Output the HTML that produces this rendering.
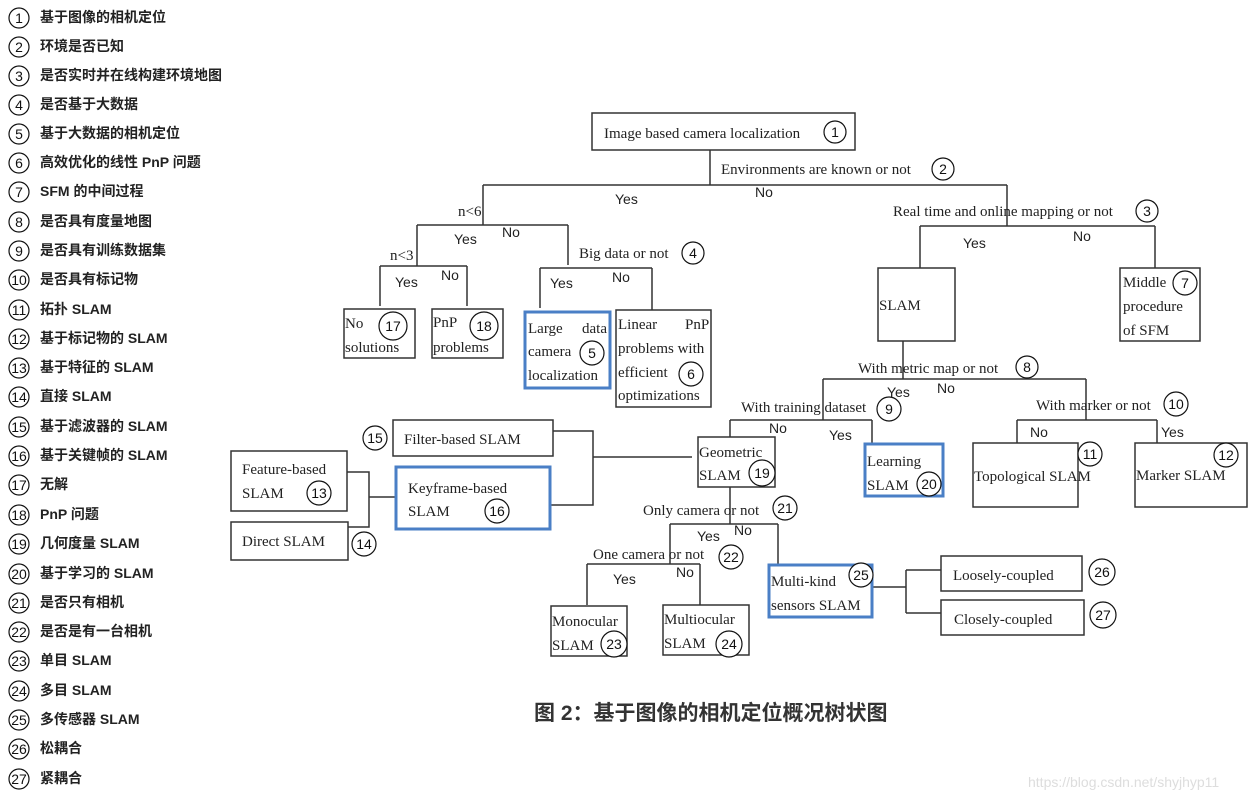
<!DOCTYPE html>
<html><head><meta charset="utf-8"><style>
html,body{margin:0;padding:0;background:#fff;}
svg{display:block;}
.lg{font-family:"Liberation Sans","Noto Sans CJK SC",sans-serif;font-size:14px;font-weight:bold;fill:#222;}
.n{font-family:"Liberation Sans",sans-serif;font-size:14px;fill:#111;text-anchor:middle;}
.t{font-family:"Liberation Serif",serif;font-size:15px;fill:#222;}
.yn{font-family:"Liberation Sans",sans-serif;font-size:14px;fill:#222;}
.b{fill:none;stroke:#333;stroke-width:1.5;}
.bb{fill:none;stroke:#4a7fc6;stroke-width:3;}
.l{fill:none;stroke:#333;stroke-width:1.5;}
.c{fill:#fff;stroke:#111;stroke-width:1.2;}
</style></head><body>
<svg width="1251" height="798" viewBox="0 0 1251 798" xmlns="http://www.w3.org/2000/svg">
<!-- legend -->
<g>
<circle class="c" cx="19" cy="18" r="10"/><text class="n" x="19" y="23">1</text><text class="lg" x="40" y="22">基于图像的相机定位</text>
<circle class="c" cx="19" cy="47" r="10"/><text class="n" x="19" y="52">2</text><text class="lg" x="40" y="51">环境是否已知</text>
<circle class="c" cx="19" cy="76" r="10"/><text class="n" x="19" y="81">3</text><text class="lg" x="40" y="80">是否实时并在线构建环境地图</text>
<circle class="c" cx="19" cy="105" r="10"/><text class="n" x="19" y="110">4</text><text class="lg" x="40" y="109">是否基于大数据</text>
<circle class="c" cx="19" cy="134" r="10"/><text class="n" x="19" y="139">5</text><text class="lg" x="40" y="138">基于大数据的相机定位</text>
<circle class="c" cx="19" cy="163" r="10"/><text class="n" x="19" y="168">6</text><text class="lg" x="40" y="167">高效优化的线性 PnP 问题</text>
<circle class="c" cx="19" cy="192" r="10"/><text class="n" x="19" y="197">7</text><text class="lg" x="40" y="196">SFM 的中间过程</text>
<circle class="c" cx="19" cy="222" r="10"/><text class="n" x="19" y="227">8</text><text class="lg" x="40" y="226">是否具有度量地图</text>
<circle class="c" cx="19" cy="251" r="10"/><text class="n" x="19" y="256">9</text><text class="lg" x="40" y="255">是否具有训练数据集</text>
<circle class="c" cx="19" cy="280" r="10"/><text class="n" x="19" y="285">10</text><text class="lg" x="40" y="284">是否具有标记物</text>
<circle class="c" cx="19" cy="310" r="10"/><text class="n" x="19" y="315">11</text><text class="lg" x="40" y="314">拓扑 SLAM</text>
<circle class="c" cx="19" cy="339" r="10"/><text class="n" x="19" y="344">12</text><text class="lg" x="40" y="343">基于标记物的 SLAM</text>
<circle class="c" cx="19" cy="368" r="10"/><text class="n" x="19" y="373">13</text><text class="lg" x="40" y="372">基于特征的 SLAM</text>
<circle class="c" cx="19" cy="397" r="10"/><text class="n" x="19" y="402">14</text><text class="lg" x="40" y="401">直接 SLAM</text>
<circle class="c" cx="19" cy="427" r="10"/><text class="n" x="19" y="432">15</text><text class="lg" x="40" y="431">基于滤波器的 SLAM</text>
<circle class="c" cx="19" cy="456" r="10"/><text class="n" x="19" y="461">16</text><text class="lg" x="40" y="460">基于关键帧的 SLAM</text>
<circle class="c" cx="19" cy="485" r="10"/><text class="n" x="19" y="490">17</text><text class="lg" x="40" y="489">无解</text>
<circle class="c" cx="19" cy="515" r="10"/><text class="n" x="19" y="520">18</text><text class="lg" x="40" y="519">PnP 问题</text>
<circle class="c" cx="19" cy="544" r="10"/><text class="n" x="19" y="549">19</text><text class="lg" x="40" y="548">几何度量 SLAM</text>
<circle class="c" cx="19" cy="574" r="10"/><text class="n" x="19" y="579">20</text><text class="lg" x="40" y="578">基于学习的 SLAM</text>
<circle class="c" cx="19" cy="603" r="10"/><text class="n" x="19" y="608">21</text><text class="lg" x="40" y="607">是否只有相机</text>
<circle class="c" cx="19" cy="632" r="10"/><text class="n" x="19" y="637">22</text><text class="lg" x="40" y="636">是否是有一台相机</text>
<circle class="c" cx="19" cy="661" r="10"/><text class="n" x="19" y="666">23</text><text class="lg" x="40" y="665">单目 SLAM</text>
<circle class="c" cx="19" cy="691" r="10"/><text class="n" x="19" y="696">24</text><text class="lg" x="40" y="695">多目 SLAM</text>
<circle class="c" cx="19" cy="720" r="10"/><text class="n" x="19" y="725">25</text><text class="lg" x="40" y="724">多传感器 SLAM</text>
<circle class="c" cx="19" cy="749" r="10"/><text class="n" x="19" y="754">26</text><text class="lg" x="40" y="753">松耦合</text>
<circle class="c" cx="19" cy="779" r="10"/><text class="n" x="19" y="784">27</text><text class="lg" x="40" y="783">紧耦合</text>
</g>

<!-- lines -->
<g class="l">
<path d="M710 150V185M483 185H1007M483 185V225M417 225H568M568 225V265M417 225V266M380 266H467M380 266V306M467 266V306"/>
<path d="M540 268H652M540 268V308M652 268V310"/>
<path d="M1007 185V226M920 226H1155M920 226V268M1155 226V268"/>
<path d="M903 341V379M823 379H1086M823 379V420M1086 379V420M730 420H872M730 420V437M872 420V444M1017 420H1157M1017 420V443M1157 420V443"/>
<path d="M553 431H593V505H550M593 457H692"/>
<path d="M347 472H369V527H348M369 497H396"/>
<path d="M730 487V524M670 524H778M670 524V564M778 524V565M587 564H700M587 564V605M700 564V605"/>
<path d="M872 587H906M906 570V613M906 570H941M906 613H941"/>
</g>

<!-- boxes -->
<rect class="b" x="592" y="113" width="263" height="37"/>
<rect class="b" x="344" y="309" width="71" height="49"/>
<rect class="b" x="432" y="309" width="71" height="49"/>
<rect class="bb" x="525" y="312" width="85" height="76"/>
<rect class="b" x="616" y="310" width="95" height="97"/>
<rect class="b" x="878" y="268" width="77" height="73"/>
<rect class="b" x="1120" y="268" width="80" height="73"/>
<rect class="b" x="698" y="437" width="77" height="50"/>
<rect class="bb" x="865" y="444" width="78" height="52"/>
<rect class="b" x="973" y="443" width="105" height="64"/>
<rect class="b" x="1135" y="443" width="112" height="64"/>
<rect class="b" x="393" y="420" width="160" height="36"/>
<rect class="bb" x="396" y="467" width="154" height="62"/>
<rect class="b" x="231" y="451" width="116" height="60"/>
<rect class="b" x="231" y="522" width="117" height="38"/>
<rect class="b" x="551" y="606" width="76" height="50"/>
<rect class="b" x="663" y="605" width="86" height="50"/>
<rect class="bb" x="769" y="565" width="103" height="52"/>
<rect class="b" x="941" y="556" width="141" height="35"/>
<rect class="b" x="941" y="600" width="143" height="35"/>

<!-- texts -->
<g class="t">
<text x="604" y="138">Image based camera localization</text>
<text x="721" y="174">Environments are known or not</text>
<text x="458" y="216">n&lt;6</text>
<text x="390" y="260">n&lt;3</text>
<text x="579" y="258">Big data or not</text>
<text x="893" y="216">Real time and online mapping or not</text>
<text x="345" y="328">No</text><text x="345" y="352">solutions</text>
<text x="433" y="327">PnP</text><text x="433" y="352">problems</text>
<text x="528" y="333">Large</text><text x="582" y="333">data</text><text x="528" y="356">camera</text><text x="528" y="380">localization</text>
<text x="618" y="329">Linear</text><text x="685" y="329">PnP</text><text x="618" y="353">problems with</text><text x="618" y="377">efficient</text><text x="618" y="400">optimizations</text>
<text x="879" y="310">SLAM</text>
<text x="1123" y="287">Middle</text><text x="1123" y="311">procedure</text><text x="1123" y="335">of SFM</text>
<text x="858" y="373">With metric map or not</text>
<text x="741" y="412">With training dataset</text>
<text x="1036" y="410">With marker or not</text>
<text x="699" y="457">Geometric</text><text x="699" y="480">SLAM</text>
<text x="867" y="466">Learning</text><text x="867" y="490">SLAM</text>
<text x="974" y="481">Topological SLAM</text>
<text x="1136" y="480">Marker SLAM</text>
<text x="404" y="444">Filter-based SLAM</text>
<text x="408" y="493">Keyframe-based</text><text x="408" y="516">SLAM</text>
<text x="242" y="474">Feature-based</text><text x="242" y="498">SLAM</text>
<text x="242" y="546">Direct SLAM</text>
<text x="643" y="515">Only camera or not</text>
<text x="593" y="559">One camera or not</text>
<text x="552" y="626">Monocular</text><text x="552" y="650">SLAM</text>
<text x="664" y="624">Multiocular</text><text x="664" y="648">SLAM</text>
<text x="771" y="586">Multi-kind</text><text x="771" y="610">sensors SLAM</text>
<text x="953" y="580">Loosely-coupled</text>
<text x="954" y="624">Closely-coupled</text>
</g>
<g class="yn">
<text x="755" y="197">No</text><text x="615" y="204">Yes</text>
<text x="454" y="244">Yes</text><text x="502" y="237">No</text>
<text x="395" y="287">Yes</text><text x="441" y="280">No</text>
<text x="550" y="288">Yes</text><text x="612" y="282">No</text>
<text x="963" y="248">Yes</text><text x="1073" y="241">No</text>
<text x="887" y="397">Yes</text><text x="937" y="393">No</text>
<text x="769" y="433">No</text><text x="829" y="440">Yes</text>
<text x="1030" y="437">No</text><text x="1161" y="437">Yes</text>
<text x="697" y="541">Yes</text><text x="734" y="535">No</text>
<text x="613" y="584">Yes</text><text x="676" y="577">No</text>
</g>
<!-- number circles -->
<g>
<circle class="c" cx="835" cy="132" r="11"/><text class="n" x="835" y="137">1</text>
<circle class="c" cx="943" cy="169" r="11"/><text class="n" x="943" y="174">2</text>
<circle class="c" cx="1147" cy="211" r="11"/><text class="n" x="1147" y="216">3</text>
<circle class="c" cx="693" cy="253" r="11"/><text class="n" x="693" y="258">4</text>
<circle class="c" cx="592" cy="353" r="12"/><text class="n" x="592" y="358">5</text>
<circle class="c" cx="691" cy="374" r="12"/><text class="n" x="691" y="379">6</text>
<circle class="c" cx="1185" cy="283" r="12"/><text class="n" x="1185" y="288">7</text>
<circle class="c" cx="1027" cy="367" r="11"/><text class="n" x="1027" y="372">8</text>
<circle class="c" cx="889" cy="409" r="12"/><text class="n" x="889" y="414">9</text>
<circle class="c" cx="1176" cy="404" r="12"/><text class="n" x="1176" y="409">10</text>
<circle class="c" cx="1090" cy="454" r="12"/><text class="n" x="1090" y="459">11</text>
<circle class="c" cx="1226" cy="455" r="12"/><text class="n" x="1226" y="460">12</text>
<circle class="c" cx="319" cy="493" r="12"/><text class="n" x="319" y="498">13</text>
<circle class="c" cx="364" cy="544" r="12"/><text class="n" x="364" y="549">14</text>
<circle class="c" cx="375" cy="438" r="12"/><text class="n" x="375" y="443">15</text>
<circle class="c" cx="497" cy="511" r="12"/><text class="n" x="497" y="516">16</text>
<circle class="c" cx="393" cy="326" r="14"/><text class="n" x="393" y="331">17</text>
<circle class="c" cx="484" cy="326" r="14"/><text class="n" x="484" y="331">18</text>
<circle class="c" cx="762" cy="473" r="13"/><text class="n" x="762" y="478">19</text>
<circle class="c" cx="929" cy="484" r="12"/><text class="n" x="929" y="489">20</text>
<circle class="c" cx="785" cy="508" r="12"/><text class="n" x="785" y="513">21</text>
<circle class="c" cx="731" cy="557" r="12"/><text class="n" x="731" y="562">22</text>
<circle class="c" cx="614" cy="644" r="13"/><text class="n" x="614" y="649">23</text>
<circle class="c" cx="729" cy="644" r="13"/><text class="n" x="729" y="649">24</text>
<circle class="c" cx="861" cy="575" r="12"/><text class="n" x="861" y="580">25</text>
<circle class="c" cx="1102" cy="572" r="13"/><text class="n" x="1102" y="577">26</text>
<circle class="c" cx="1103" cy="615" r="13"/><text class="n" x="1103" y="620">27</text>
</g>
<text x="534" y="720" style="font-family:'Liberation Sans','Noto Sans CJK SC',sans-serif;font-size:21px;font-weight:bold;fill:#333;">图 2：基于图像的相机定位概况树状图</text>
<text x="1028" y="787" style="font-family:'Liberation Sans',sans-serif;font-size:14px;fill:#ddd;">https://blog.csdn.net/shyjhyp11</text>
</svg>
</body></html>
